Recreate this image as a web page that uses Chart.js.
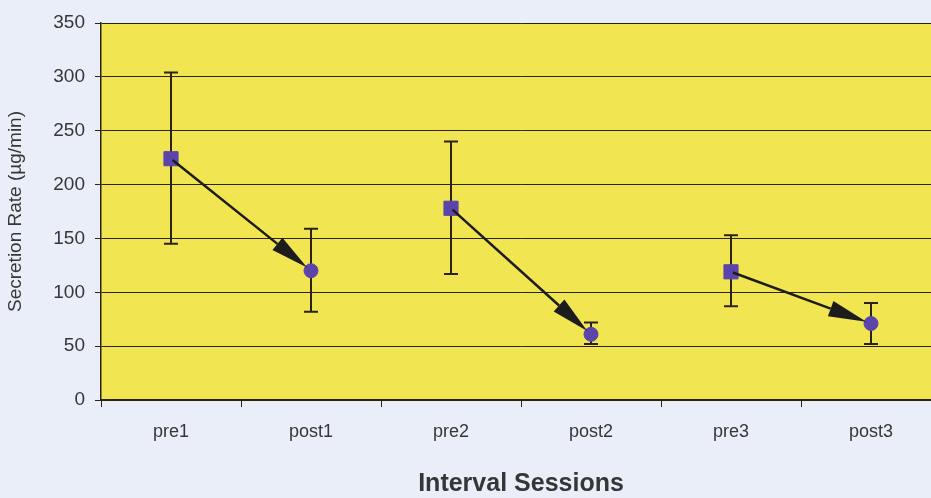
<!DOCTYPE html>
<html>
<head>
<meta charset="utf-8">
<script src="https://cdn.jsdelivr.net/npm/chart.js@4.4.1/dist/chart.umd.min.js"></script>
<style>
  html, body { margin: 0; padding: 0; background: #e9eef8; overflow: hidden; }
  canvas { display: block; }
</style>
</head>
<body>
<canvas id="myChart" width="952" height="498"></canvas>
<script>
// data
let sessions = ['pre1', 'post1', 'pre2', 'post2', 'pre3', 'post3'];
let preMeans = [224, null, 178, null, 119, null];
let postMeans = [null, 120, null, 61, null, 71];
let errHigh = [304, 159, 240, 72, 153, 90];
let errLow = [145, 82, 117, 52, 87, 52];
let yTicks = [0, 50, 100, 150, 200, 250, 300, 350];

let ink = '#2b2218';
let markColor = '#5b45aa';
let textColor = '#363636';

// yellow plot background
let plotBg = {
	id: 'plotBg',
	beforeDraw(chart) {
		let a = chart.chartArea, c = chart.ctx;
		c.save();
		c.fillStyle = '#f1e651';
		c.fillRect(a.left, a.top, a.right - a.left, a.bottom - a.top);
		c.restore();
	}
};

// error bars under the markers
let errBars = {
	id: 'errBars',
	beforeDatasetsDraw(chart) {
		let x = chart.scales.x, y = chart.scales.y, c = chart.ctx;
		c.save();
		c.strokeStyle = ink;
		c.lineWidth = 2;
		sessions.forEach((s, i) => {
			let px = x.getPixelForValue(i);
			let top = y.getPixelForValue(errHigh[i]);
			let bot = y.getPixelForValue(errLow[i]);
			c.beginPath();
			c.moveTo(px, top); c.lineTo(px, bot);
			c.moveTo(px - 7, top); c.lineTo(px + 7, top);
			c.moveTo(px - 7, bot); c.lineTo(px + 7, bot);
			c.stroke();
		});
		c.restore();
	}
};

// arrows pre -> post
let arrows = {
	id: 'arrows',
	afterDatasetsDraw(chart) {
		let x = chart.scales.x, y = chart.scales.y, c = chart.ctx;
		c.save();
		c.strokeStyle = '#1c1c1c';
		c.fillStyle = '#1c1c1c';
		c.lineWidth = 2.5;
		for (let i = 0; i < sessions.length; i += 2) {
			let x1 = x.getPixelForValue(i), y1 = y.getPixelForValue(preMeans[i]);
			let x2 = x.getPixelForValue(i + 1), y2 = y.getPixelForValue(postMeans[i + 1]);
			let dx = x2 - x1, dy = y2 - y1, len = Math.sqrt(dx * dx + dy * dy);
			let ux = dx / len, uy = dy / len;
			let sx = x1 + ux * 2, sy = y1 + uy * 2;
			let tx = x2 - ux * 5, ty = y2 - uy * 5;
			let hl = 38, hw = 8;
			let bx = tx - ux * hl, by = ty - uy * hl;
			c.beginPath();
			c.moveTo(sx, sy); c.lineTo(bx, by);
			c.stroke();
			c.beginPath();
			c.moveTo(tx, ty);
			c.lineTo(bx - uy * hw, by + ux * hw);
			c.lineTo(bx + uy * hw, by - ux * hw);
			c.closePath();
			c.fill();
		}
		c.restore();
	}
};

let ctx = document.getElementById('myChart').getContext('2d');

let chart = new Chart(ctx, {
	type: 'line',
	data: {
		labels: sessions,
		datasets: [{
			data: preMeans,
			showLine: false,
			pointStyle: 'rect',
			pointRadius: 10,
			pointBackgroundColor: markColor,
			pointBorderColor: markColor
		}, {
			data: postMeans,
			showLine: false,
			pointStyle: 'circle',
			pointRadius: 7,
			pointBackgroundColor: markColor,
			pointBorderColor: markColor
		}]
	},
	options: {
		responsive: false,
		devicePixelRatio: 1,
		animation: false,
		layout: { padding: { top: 23, right: 1, left: 0, bottom: 0 } },
		plugins: {
			legend: { display: false },
			tooltip: { enabled: false }
		},
		scales: {
			x: {
				offset: true,
				grid: { offset: true, drawOnChartArea: false, color: ink, tickLength: 7, lineWidth: 1 },
				border: { color: ink, width: 1.5 },
				ticks: { color: textColor, font: { family: 'Liberation Sans, Arial', size: 18 }, padding: 14 },
				title: {
					display: true,
					text: 'Interval Sessions',
					color: textColor,
					font: { family: 'Liberation Sans, Arial', size: 25, weight: 'bold' },
					padding: { top: 0, bottom: -1 }
				},
				afterFit(scale) { scale.height = 98; }
			},
			y: {
				min: 0,
				max: 350,
				afterBuildTicks(scale) { scale.ticks = yTicks.map(v => ({ value: v })); },
				grid: { color: ink, lineWidth: 1, tickLength: 6 },
				border: { color: ink, width: 1.5 },
				ticks: { color: textColor, font: { family: 'Liberation Sans, Arial', size: 19 }, padding: 10 },
				title: {
					display: true,
					text: 'Secretion Rate (µg/min)',
					color: textColor,
					font: { family: 'Liberation Sans, Arial', size: 19 },
					padding: { bottom: 2 }
				},
				afterFit(scale) { scale.width = 101; }
			}
		}
	},
	plugins: [plotBg, errBars, arrows]
});
</script>
</body>
</html>
